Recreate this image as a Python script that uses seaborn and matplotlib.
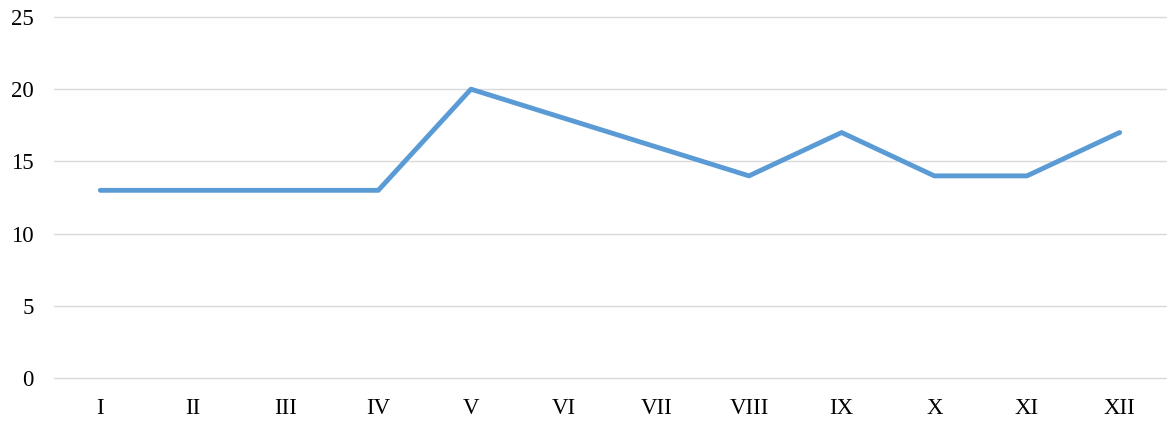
import seaborn as sns
import matplotlib.pyplot as plt
import pandas as pd

# data
months = ["I", "II", "III", "IV", "V", "VI", "VII", "VIII", "IX", "X", "XI", "XII"]
values = [13, 13, 13, 13, 20, 18, 16, 14, 17, 14, 14, 17]

df = pd.DataFrame({"month": months, "value": values})

sns.set_style("white")
plt.rcParams["font.family"] = ["Liberation Serif", "DejaVu Serif"]

fig = plt.figure(figsize=(11.73, 4.23), dpi=100)
ax = fig.add_axes([0.046, 0.106, 0.948, 0.854])

sns.lineplot(data=df, x="month", y="value", sort=False, color="#5B9BD5",
             linewidth=3.5, ax=ax)

ax.set_xlim(-0.5, 11.5)
ax.set_ylim(0, 25)
ax.set_yticks([0, 5, 10, 15, 20, 25])
ax.yaxis.grid(True, color="#D9D9D9", linewidth=1)
for gl in ax.get_ygridlines():
    gl.set_clip_on(False)
ax.set_axisbelow(True)
for s in ax.spines.values():
    s.set_visible(False)
ax.tick_params(axis="both", length=0, labelsize=16.5, colors="#000000")
ax.tick_params(axis="y", pad=14.5)
ax.tick_params(axis="x", pad=14)
ax.set_xlabel("")
ax.set_ylabel("")

fig.savefig("out.png", dpi=100)
